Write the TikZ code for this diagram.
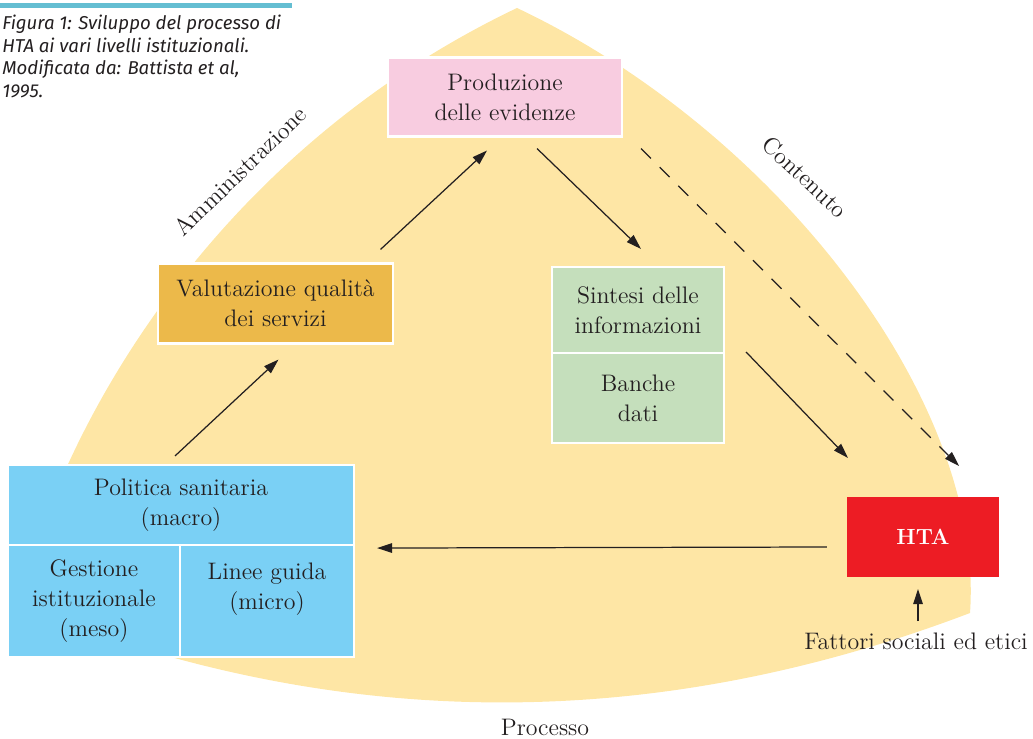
\documentclass[tikz,border=0pt]{standalone}
\usepackage{fontspec}
\newfontfamily\capfont{Fira Sans}
\usetikzlibrary{arrows.meta}

\definecolor{bgyellow}{RGB}{254,230,165}
\definecolor{capbar}{RGB}{100,190,210}
\definecolor{prodpink}{RGB}{248,204,224}
\definecolor{valgold}{RGB}{236,185,74}
\definecolor{singgreen}{RGB}{197,223,188}
\definecolor{polblue}{RGB}{122,208,245}
\definecolor{htared}{RGB}{237,28,36}
\definecolor{ink}{RGB}{35,31,32}

\tikzset{
  box/.style={draw=white, line width=1.2pt, align=center, inner sep=0pt,
    text=ink, font=\fontsize{13.6}{17}\selectfont},
  lbl/.style={inner sep=0pt, text=ink, font=\fontsize{13.6}{17}\selectfont},
  arr/.style={-{Triangle[length=0.3cm,width=0.19cm]}, line width=0.7pt, draw=ink}
}

\begin{document}
\begin{tikzpicture}[x=0.02cm,y=-0.02cm]
      \useasboundingbox (0,0) rectangle (1033,739);
      % background
      \fill[bgyellow] (517,8) .. controls (775,130) and (985,400) .. (970,613)
        .. controls (649,735) and (332,732) .. (18,605)
        .. controls (72,390) and (240,140) .. cycle;
      \fill[capbar] (0,3) rectangle (292,8);
      \node[anchor=north west, align=left, inner sep=0pt, text=ink,
        font=\capfont\itshape\fontsize{10.6}{12.8}\selectfont] (cap) at (2,15)
        {Figura 1: Sviluppo del processo di\\HTA ai vari livelli istituzionali.\\Modificata da: Battista et al,\\1995.};
      \draw
        (505,97) node[box,fill=prodpink,minimum width=4.68cm,minimum height=1.58cm] (prod){Produzione\\delle evidenze}
        (275.5,303.5) node[box,fill=valgold,minimum width=4.7cm,minimum height=1.6cm] (val){Valutazione qualità\\dei servizi}
        (638,310) node[box,fill=singgreen,minimum width=3.44cm,minimum height=1.72cm] (sin){Sintesi delle\\informazioni}
        (638,398) node[box,fill=singgreen,minimum width=3.44cm,minimum height=1.8cm] (ban){Banche\\dati}
        (181,505) node[box,fill=polblue,minimum width=6.92cm,minimum height=1.6cm] (pol){Politica sanitaria\\(macro)}
        (94,601) node[box,fill=polblue,minimum width=3.44cm,minimum height=2.24cm] (ges){Gestione\\istituzionale\\(meso)}
        (267,601) node[box,fill=polblue,minimum width=3.48cm,minimum height=2.24cm] (lin){Linee guida\\(micro)\\~}
        (923,537) node[box,fill=htared,draw=none,text=white,minimum width=3.04cm,minimum height=1.6cm,
          font=\fontsize{12.5}{14}\selectfont\bfseries] (hta){HTA}
        (916,641) node[lbl] (fat){Fattori sociali ed etici};
      \node[lbl,rotate=44] (amm) at (240,171) {Amministrazione};
      \node[lbl,rotate=-43] (con) at (805,177) {Contenuto};
      \node[lbl] (pro) at (545,727) {Processo};
      \begin{scope}[arr]
        \draw ([shift={(-6,-8)}]pol.north) -- ([shift={(3,15)}]val.south);
        \draw ([shift={(105,-13)}]val.north) -- ([shift={(-18,13)}]prod.south);
        \draw ([shift={(32,11)}]prod.south) -- ([shift={(3,-17)}]sin.north);
        \draw ([shift={(21,0)}]ban.north east) -- ([shift={(2,-38)}]hta.north west);
        \draw[dash pattern=on 8pt off 7pt] ([shift={(18,11)}]prod.south east) -- ([shift={(-41,-30)}]hta.north east);
        \draw ([shift={(-19,10)}]hta.west) -- ([shift={(22,2)}]pol.south east);
        \draw ([shift={(2,-11)}]fat.north) -- ([shift={(-5,11)}]hta.south);
      \end{scope}
    \end{tikzpicture}
\end{document}
